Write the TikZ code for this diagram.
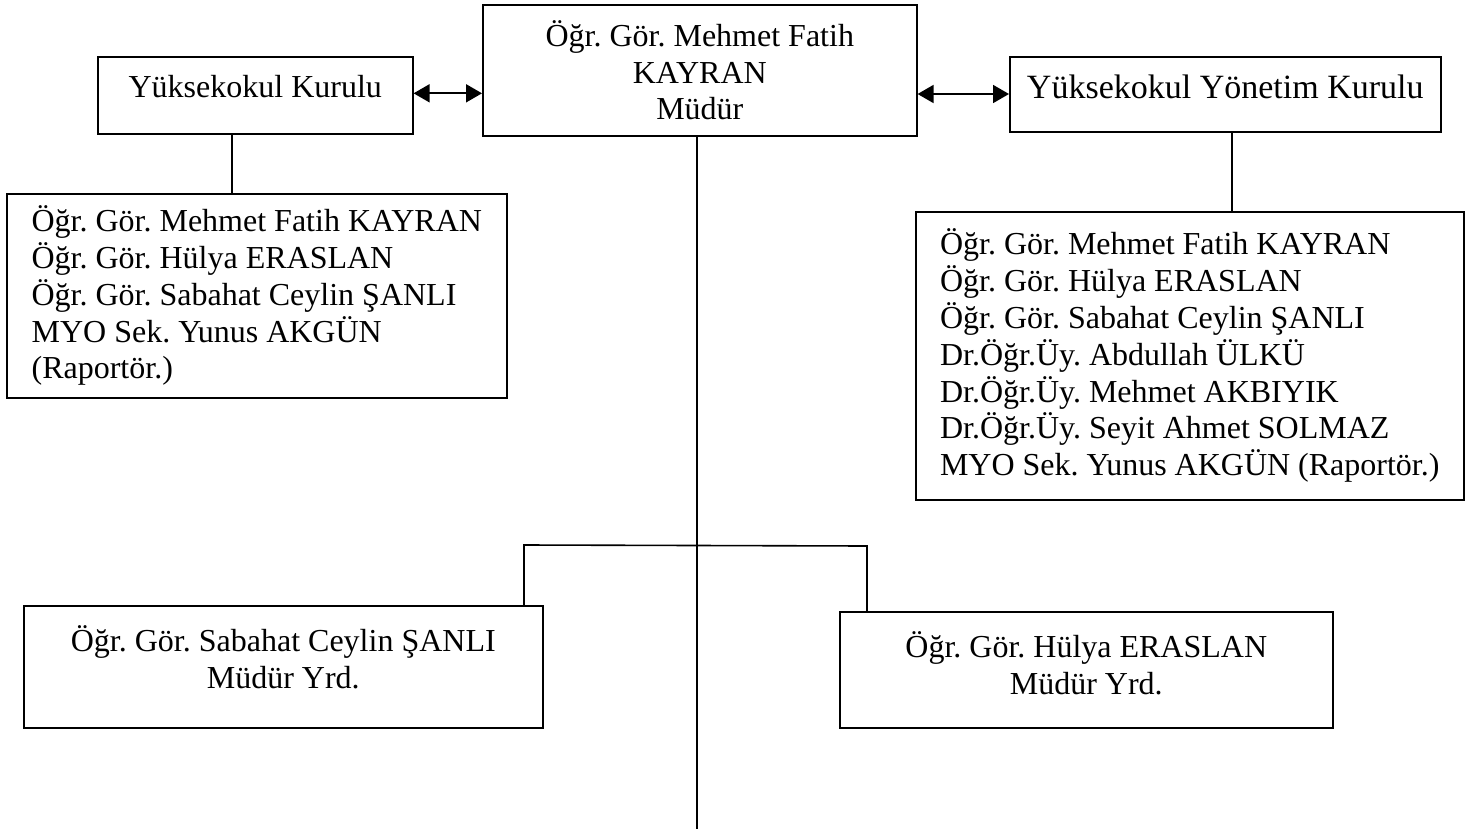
\documentclass[tikz,border=0pt]{standalone}
\usepackage{fontspec}
\setmainfont{Liberation Serif}
\usetikzlibrary{arrows.meta}
\frenchspacing

\tikzset{
	kutu/.style={draw,line width=0.8pt,anchor=north west,inner sep=0pt,align=center,font=\fontsize{16}{18.4}\selectfont},
	liste/.style={kutu,align=left},
	ok/.style={line width=0.9pt,{Triangle[length=8pt,width=9pt]}-{Triangle[length=8pt,width=9pt]}},
	cizgi/.style={line width=0.8pt}
}

\begin{document}
\begin{tikzpicture}[x=0.5pt,y=-0.5pt]

	\useasboundingbox (0,0) rectangle (1483,829);

	\node[kutu,minimum width=217pt,minimum height=65.5pt] (mudur) at (482,4) {Öğr. Gör. Mehmet Fatih\\KAYRAN\\Müdür};
	\node[kutu,minimum width=157.5pt,minimum height=38.5pt,text depth=8.5pt] (kurul) at (97,56) {Yüksekokul Kurulu};
	\node[kutu,minimum width=215.5pt,minimum height=37.5pt,text depth=7.5pt,font=\fontsize{17}{19.5}\selectfont] (yonetim) at (1009,56) {Yüksekokul Yönetim Kurulu};

	\node[liste,minimum width=250pt,minimum height=102pt] (klist) at (6,193) {Öğr. Gör. Mehmet Fatih KAYRAN\\Öğr. Gör. Hülya ERASLAN\\Öğr. Gör. Sabahat Ceylin ŞANLI\\MYO Sek. Yunus AKGÜN\\(Raportör.)};
	\node[liste,minimum width=274pt,minimum height=144pt] (ylist) at (915,211) {Öğr. Gör. Mehmet Fatih KAYRAN\\Öğr. Gör. Hülya ERASLAN\\Öğr. Gör. Sabahat Ceylin ŞANLI\\Dr.Öğr.Üy. Abdullah ÜLKÜ\\Dr.Öğr.Üy. Mehmet AKBIYIK\\Dr.Öğr.Üy. Seyit Ahmet SOLMAZ\\MYO Sek. Yunus AKGÜN (Raportör.)};

	\node[kutu,minimum width=259.5pt,minimum height=61pt,text depth=10pt] (syrd) at (23,605) {Öğr. Gör. Sabahat Ceylin ŞANLI\\Müdür Yrd.};
	\node[kutu,minimum width=246.5pt,minimum height=58pt,text depth=6.5pt] (hyrd) at (839,611) {Öğr. Gör. Hülya ERASLAN\\Müdür Yrd.};

	\coordinate (kbag) at (232,0);
	\coordinate (ybag) at (1232,0);
	\coordinate (alt) at (697,829);
	\coordinate (solk) at (524,545);
	\coordinate (sag) at (867,546);

	\draw[ok] (kurul.mid east) -- (kurul.mid east -| mudur.west);
	\draw[ok] (mudur.east |- yonetim.mid west) -- (yonetim.mid west);
	\draw[cizgi] (kurul.south -| kbag) -- (klist.north -| kbag);
	\draw[cizgi] (yonetim.south -| ybag) -- (ylist.north -| ybag);
	\draw[cizgi] (mudur.south -| alt) -- (alt);
	\draw[cizgi] (syrd.north -| solk) -- (solk) -- (sag) -- (sag |- hyrd.north);

\end{tikzpicture}
\end{document}
